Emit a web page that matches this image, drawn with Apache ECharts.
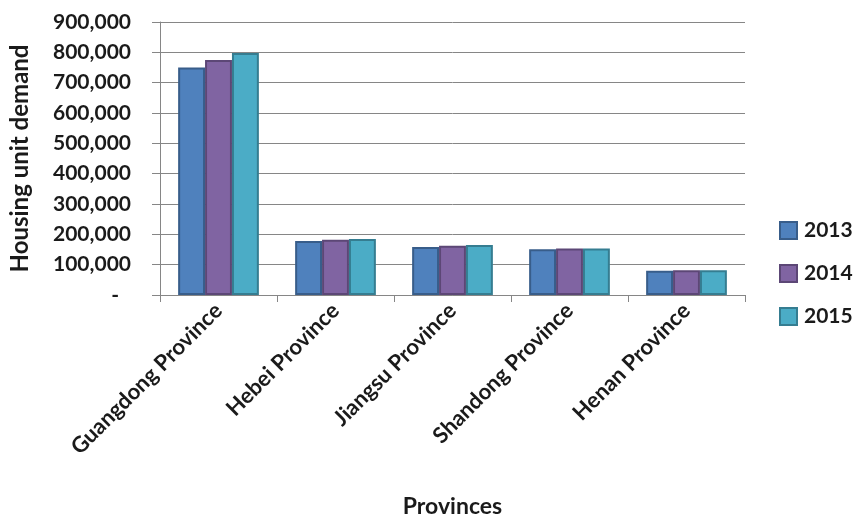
<!DOCTYPE html>
<html>
<head>
<meta charset="utf-8">
<script src="https://cdn.jsdelivr.net/npm/echarts@6/dist/echarts.min.js"></script>
<style>
html,body{margin:0;padding:0;background:#fff;}
#chart{width:855px;height:523px;}
</style>
</head>
<body>
<div id="chart"></div>
<script>
var categories = ['Guangdong Province', 'Hebei Province', 'Jiangsu Province', 'Shandong Province', 'Henan Province'];
var seriesNames = ['2013', '2014', '2015'];
var values2013 = [750000, 178000, 158000, 151000, 80000];
var values2014 = [775000, 182000, 162000, 153000, 82000];
var values2015 = [798000, 185000, 165000, 153000, 82000];
var yTicks = [0, 100000, 200000, 300000, 400000, 500000, 600000, 700000, 800000, 900000];

var fills = ['#4F81BD', '#8064A2', '#4BACC6'];
var borders = ['#385D8A', '#5C4776', '#357D91'];
var allValues = [values2013, values2014, values2015];
var FONT = 'Lato';

var chart = echarts.init(document.getElementById('chart'));
var series = seriesNames.map(function (n, i) {
  return {
    name: n,
    type: 'bar',
    data: allValues[i],
    barGap: '0%',
    barCategoryGap: '31%',
    itemStyle: { color: fills[i], borderColor: borders[i], borderWidth: 2 },
    emphasis: { disabled: true }
  };
});

chart.setOption({
  animation: false,
  backgroundColor: '#fff',
  grid: { left: 157, right: 110, top: 22, bottom: 226, containLabel: false },
  legend: {
    orient: 'vertical',
    left: 779,
    top: 220,
    padding: 0,
    icon: 'rect',
    itemWidth: 17,
    itemHeight: 17,
    itemGap: 22,
    textStyle: { fontFamily: FONT, fontWeight: 'bold', fontSize: 21, color: '#1a1a1a', lineHeight: 21, padding: [0, 0, 0, 2] },
    data: seriesNames
  },
  xAxis: {
    type: 'category',
    data: categories,
    name: 'Provinces',
    nameLocation: 'middle',
    nameGap: 200,
    nameTextStyle: { fontFamily: FONT, fontWeight: 'bold', fontSize: 23, color: '#1a1a1a' },
    axisLine: { lineStyle: { color: '#868686', width: 1 } },
    axisTick: { show: true, length: 7, lineStyle: { color: '#868686' } },
    axisLabel: { rotate: 45, margin: 12, fontFamily: FONT, fontWeight: 'bold', fontSize: 22, color: '#1a1a1a', interval: 0 }
  },
  yAxis: {
    type: 'value',
    min: yTicks[0],
    max: yTicks[yTicks.length - 1],
    interval: yTicks[1] - yTicks[0],
    name: 'Housing unit demand',
    nameLocation: 'middle',
    nameGap: 128,
    nameTextStyle: { fontFamily: FONT, fontWeight: 'bold', fontSize: 24, color: '#1a1a1a' },
    axisLine: { show: true, lineStyle: { color: '#868686', width: 1 } },
    axisTick: { show: true, length: 8, lineStyle: { color: '#868686' } },
    splitLine: { show: true, lineStyle: { color: '#868686', width: 1 } },
    axisLabel: {
      margin: 29,
      fontFamily: FONT, fontWeight: 'bold', fontSize: 21, color: '#1a1a1a',
      formatter: function (v) { return v === 0 ? '{d|-}' : v.toLocaleString('en-US'); },
      rich: { d: { fontFamily: FONT, fontWeight: 'bold', fontSize: 21, color: '#1a1a1a', padding: [0, 12, 0, 0] } }
    }
  },
  series: series
});
</script>
</body>
</html>
